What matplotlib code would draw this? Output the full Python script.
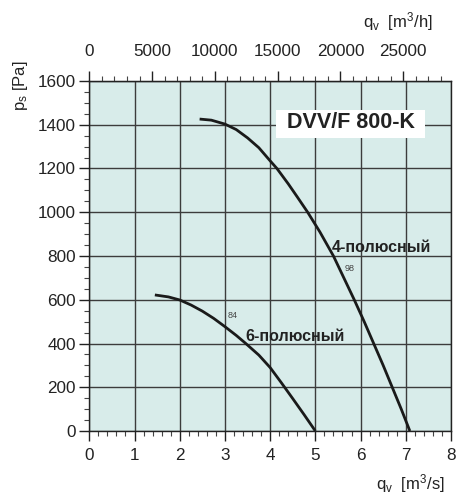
import matplotlib
matplotlib.use("Agg")
import matplotlib.pyplot as plt
from matplotlib.ticker import MultipleLocator
from matplotlib.patches import Rectangle

plt.rcParams['font.family'] = ['Liberation Sans', 'DejaVu Sans']
plt.rcParams['mathtext.fontset'] = 'custom'
plt.rcParams['mathtext.rm'] = 'Liberation Sans'
plt.rcParams['mathtext.it'] = 'Liberation Sans'

# Data (q in m3/s, ps in Pa)
q_4pole = [2.44, 2.7, 3.0, 3.25, 3.5, 3.75, 4.0, 4.15, 4.4, 4.6, 4.83, 5.1, 5.40,
           5.63, 5.86, 6.08, 6.29, 6.50, 6.70, 6.90, 7.09]
ps_4pole = [1426, 1421, 1403, 1378, 1340, 1295, 1235, 1200, 1130, 1070, 1000, 910, 800,
            700, 600, 500, 400, 300, 200, 100, 0]
q_6pole = [1.45, 1.75, 2.0, 2.25, 2.5, 2.75, 3.0, 3.25, 3.45, 3.75, 4.0, 4.25, 4.5, 4.75, 5.0]
ps_6pole = [622, 613, 599, 576, 548, 515, 477, 437, 402, 347, 290, 220, 148, 75, 0]

x_ticks = [0, 1, 2, 3, 4, 5, 6, 7, 8]
y_ticks = [0, 200, 400, 600, 800, 1000, 1200, 1400, 1600]
top_ticks = [0, 5000, 10000, 15000, 20000, 25000]

title = "DVV/F 800-K"
label_4 = "4-полюсный"
label_6 = "6-полюсный"

W, H = 457, 499
fig = plt.figure(figsize=(W / 100, H / 100), dpi=100)
ax = fig.add_axes([89.3 / W, 1 - 431 / H, (451 - 89.3) / W, (431 - 81) / H])
ax.set_facecolor('#d8ecea')
ax.set_xlim(0, 8)
ax.set_ylim(0, 1600)

ax.set_xticks(x_ticks)
ax.set_yticks(y_ticks)
ax.xaxis.set_minor_locator(MultipleLocator(0.2))
ax.yaxis.set_minor_locator(MultipleLocator(50))
ax.grid(True, which='major', color='#3c3c3c', lw=1.0)
ax.set_axisbelow(True)

tc = '#222222'
fs = 12.3
ax.tick_params(which='major', direction='out', length=7.5, width=1.0, color='#222222',
               labelsize=fs, labelcolor=tc)
ax.tick_params(axis='x', which='major', pad=5)
ax.tick_params(axis='y', which='major', pad=2)
ax.tick_params(which='minor', direction='out', length=3.8, width=0.8, color='#444444')
for s in ax.spines.values():
    s.set_color('#222222')
    s.set_linewidth(1.0)

# top axis in m3/h
sec = ax.secondary_xaxis('top', functions=(lambda q: q * 3600, lambda v: v / 3600))
sec.set_xticks(top_ticks)
sec.xaxis.set_minor_locator(MultipleLocator(1000))
sec.tick_params(which='major', direction='out', length=7.5, width=1.0, color='#222222',
                labelsize=fs, labelcolor=tc, pad=8)
sec.tick_params(which='minor', direction='out', length=3.8, width=0.8, color='#444444')
sec.spines['top'].set_color('#222222')

# curves
ax.plot(q_4pole, ps_4pole, color='#1a1a1a', lw=2.0, solid_capstyle='butt', zorder=3)
ax.plot(q_6pole, ps_6pole, color='#1a1a1a', lw=2.0, solid_capstyle='butt', zorder=3)

# title with white box
ax.add_patch(Rectangle((4.14, 1339), 3.28, 128, facecolor='white', edgecolor='none', zorder=2))
ax.text(5.78, 1408, title, fontsize=15.5, fontweight='bold', color='#222222',
        ha='center', va='center', zorder=4)
ax.text(5.36, 838, label_4, fontsize=11.5, fontweight='bold', color='#222222',
        ha='left', va='center', zorder=4)
ax.text(3.46, 434, label_6, fontsize=11.5, fontweight='bold', color='#222222',
        ha='left', va='center', zorder=4)
ax.text(5.75, 745, "98", fontsize=6.5, color='#444444', ha='center', va='center', zorder=4)
ax.text(3.17, 526, "84", fontsize=6.5, color='#444444', ha='center', va='center', zorder=4)

# axis labels
fig.text(20 / W, 1 - 86 / H, r'p$_\mathrm{s}$ [Pa]', rotation=90, fontsize=12,
         color=tc, ha='center', va='center')
fig.text(398 / W, 1 - 22 / H, r'q$_\mathrm{v}$  [m$^3$/h]', fontsize=12,
         color=tc, ha='center', va='center')
fig.text(410 / W, 1 - 484 / H, r'q$_\mathrm{v}$  [m$^3$/s]', fontsize=12,
         color=tc, ha='center', va='center')

fig.savefig('out.png', dpi=100)
